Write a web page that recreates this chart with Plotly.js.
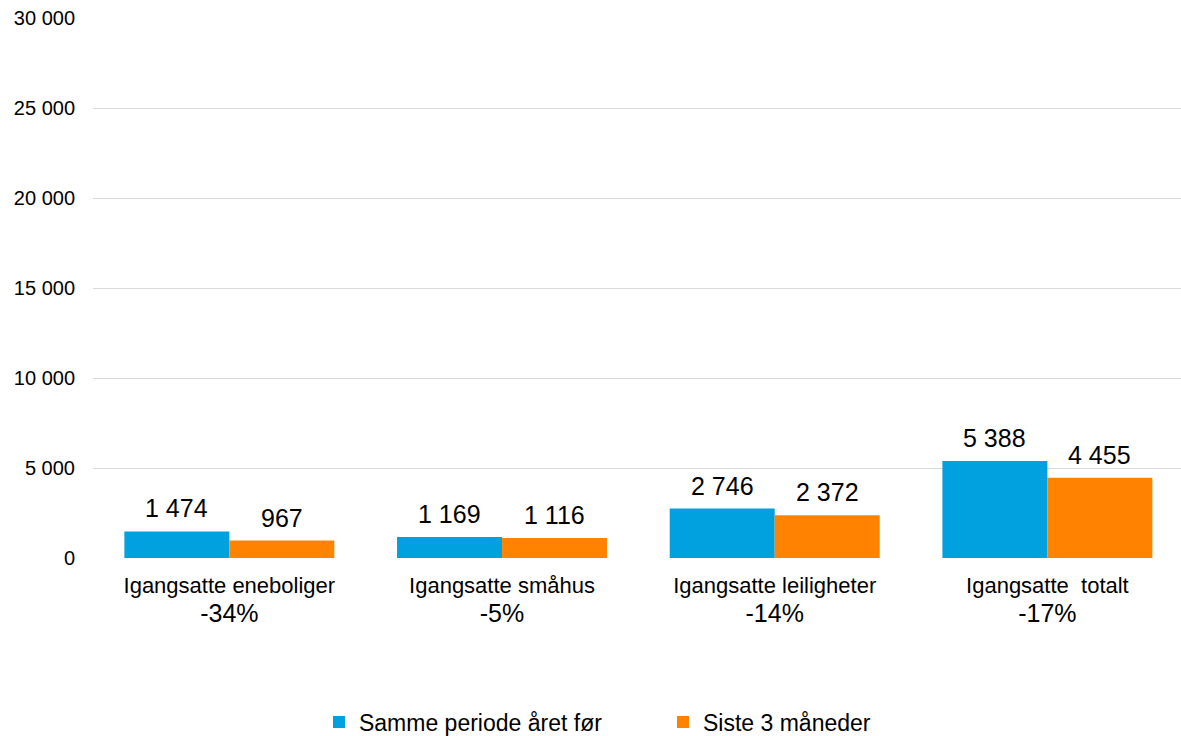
<!DOCTYPE html>
<html>
<head>
<meta charset="utf-8">
<script src="https://cdn.plot.ly/plotly-3.0.1.min.js"></script>
<style>
  html, body { margin: 0; padding: 0; background: #fff; }
  #chart { width: 1181px; height: 736px; }
</style>
</head>
<body>
<div id="chart"></div>
<script>
// Igangsatte boliger - data
const categories = ["Igangsatte eneboliger", "Igangsatte småhus", "Igangsatte leiligheter", "Igangsatte  totalt"];
const changes = ["-34%", "-5%", "-14%", "-17%"];
const prevYear = [1474, 1169, 2746, 5388];
const last3 = [967, 1116, 2372, 4455];
const seriesNames = ["Samme periode året før", "Siste 3 måneder"];
const yTicks = [0, 5000, 10000, 15000, 20000, 25000, 30000];

const font = "Liberation Sans, Arial, sans-serif";
const barGap = 0.23;

function fmt(v) {
    return String(v).replace(/\B(?=(\d{3})+(?!\d))/g, " ");
}

const xs = categories.map((_, i) => i);
const tickText = categories.map((c, i) =>
    c.replace(/ /g, "&nbsp;") + '<br><span style="font-size:25px">' + changes[i] + '</span>');

const trace1 = {
    x: xs,
    y: prevYear,
    name: seriesNames[0],
    type: 'bar',
    marker: { color: '#00A1DE' }
};

const trace2 = {
    x: xs,
    y: last3,
    name: seriesNames[1],
    type: 'bar',
    marker: { color: '#FF8300' }
};

// value labels above each bar (half a bar width left/right of the category)
const half = (1 - barGap) / 4;
const labels = [];
[[prevYear, -half], [last3, half]].forEach(([vals, off]) => {
    vals.forEach((v, i) => {
        labels.push({
            x: i + off, y: v, xref: 'x', yref: 'y',
            text: fmt(v), showarrow: false,
            yanchor: 'bottom', yshift: 7,
            font: { size: 25, color: '#000', family: font }
        });
    });
});

const layout = {
    width: 1181,
    height: 736,
    margin: { l: 93, r: 0, t: 18, b: 178, autoexpand: false },
    paper_bgcolor: '#fff',
    plot_bgcolor: '#fff',
    font: { family: font, color: '#000' },
    separators: ', ',
    barmode: 'group',
    bargap: barGap,
    bargroupgap: 0,
    xaxis: {
        range: [-0.5, 3.49],
        tickvals: xs,
        ticktext: tickText,
        tickfont: { size: 22, color: '#000' },
        showgrid: false,
        zeroline: false,
        showline: false,
        ticks: '',
        ticklabelstandoff: 12
    },
    yaxis: {
        range: [0, 30000],
        tickvals: yTicks,
        ticktext: yTicks.map(fmt),
        tickfont: { size: 20, color: '#000' },
        gridcolor: '#d9d9d9',
        gridwidth: 1,
        zeroline: false,
        showline: false,
        ticks: '',
        ticklabelstandoff: 17
    },
    annotations: labels,
    showlegend: true,
    legend: {
        orientation: 'h',
        x: 0.2077,
        xanchor: 'left',
        y: -0.304,
        yanchor: 'middle',
        font: { size: 23, color: '#000' },
        entrywidth: 299,
        itemwidth: 30,
        traceorder: 'normal'
    }
};

Plotly.newPlot('chart', [trace1, trace2], layout, { displayModeBar: false, staticPlot: true });
</script>
</body>
</html>
